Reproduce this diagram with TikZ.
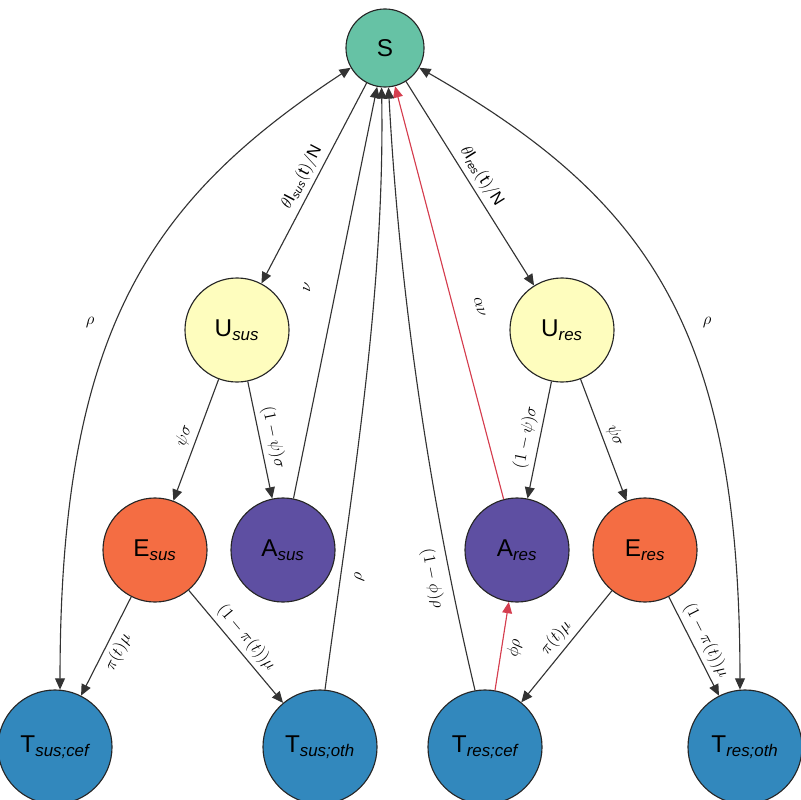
\documentclass[tikz,border=0pt]{standalone}
\usepackage{fontspec}
\setmainfont{Liberation Sans}
\usetikzlibrary{arrows.meta}
\definecolor{cS}{HTML}{66C2A5}
\definecolor{cU}{HTML}{FEFDBE}
\definecolor{cE}{HTML}{F46D43}
\definecolor{cA}{HTML}{5E4FA2}
\definecolor{cT}{HTML}{3288BD}
\definecolor{cRed}{HTML}{D53E4F}
\newcommand{\cmp}[2]{#1\textsubscript{\itshape #2}}
\begin{document}
\begin{tikzpicture}[x=0.025cm, y=-0.025cm,
    state/.style={circle, draw=black!85, thick, inner sep=0pt, font=\LARGE},
    small/.style={state, minimum size=2.6cm},
    big/.style={state, minimum size=2.85cm},
    arrow/.style={-{Triangle[length=8pt, width=7pt]}, draw=black!80, thick},
    both/.style={{Triangle[length=8pt, width=7pt]}-{Triangle[length=8pt, width=7pt]}, draw=black!80, thick},
    redarrow/.style={-{Triangle[length=8pt, width=7pt]}, draw=cRed, thick, fill=cRed},
    lbl/.style={font=\large, sloped}
]
\useasboundingbox (0,0) rectangle (800,800);

\node[state, minimum size=1.95cm, fill=cS] (S) at (385,48) {S};
\node[small, fill=cU] (Usus) at (237,330) {\cmp{U}{sus}};
\node[small, fill=cU] (Ures) at (562,330) {\cmp{U}{res}};
\node[small, fill=cE] (Esus) at (155,550) {\cmp{E}{sus}};
\node[small, fill=cA] (Asus) at (283,550) {\cmp{A}{sus}};
\node[small, fill=cA] (Ares) at (517,550) {\cmp{A}{res}};
\node[small, fill=cE] (Eres) at (645,550) {\cmp{E}{res}};
\node[big, fill=cT] (Tsc) at (55,747) {\cmp{T}{sus;cef}};
\node[big, fill=cT] (Tso) at (320,747) {\cmp{T}{sus;oth}};
\node[big, fill=cT] (Trc) at (485,747) {\cmp{T}{res;cef}};
\node[big, fill=cT] (Tro) at (745,747) {\cmp{T}{res;oth}};

\draw[arrow] (S) -- node[lbl, above] {$\theta\mathrm{I}_{\mathit{sus}}\mathrm{(t)/N}$} (Usus);
\draw[arrow] (S) -- node[lbl, above] {$\theta\mathrm{I}_{\mathit{res}}\mathrm{(t)/N}$} (Ures);
\draw[arrow] (Usus) -- node[lbl, above] {$\psi\sigma$} (Esus);
\draw[arrow] (Usus) -- node[lbl, above] {$(1-\psi)\sigma$} (Asus);
\draw[arrow] (Ures) -- node[lbl, above] {$(1-\psi)\sigma$} (Ares);
\draw[arrow] (Ures) -- node[lbl, above] {$\psi\sigma$} (Eres);
\draw[arrow] (Asus) -- node[lbl, above=14pt, pos=0.5] {$\nu$} (S);
\draw[redarrow] (Ares) -- node[lbl, above=12pt, pos=0.45, text=black] {$\alpha\nu$} (S);
\draw[arrow] (Esus) -- node[lbl, below] {$\pi(t)\mu$} (Tsc);
\draw[arrow] (Esus) -- node[lbl, above] {$(1-\pi(t))\mu$} (Tso);
\draw[arrow] (Eres) -- node[lbl, above] {$\pi(t)\mu$} (Trc);
\draw[arrow] (Eres) -- node[lbl, above] {$(1-\pi(t))\mu$} (Tro);
\draw[both] (Tsc.85) .. controls (60,330) and (150,200) .. node[pos=0.45, left=12pt, font=\large] {$\rho$} (S.210);
\draw[both] (Tro.95) .. controls (740,330) and (650,200) .. node[pos=0.45, right=12pt, font=\large] {$\rho$} (S.330);
\draw[arrow] (Tso.85) .. controls (350,500) and (385,300) .. node[lbl, pos=0.2, below=6pt] {$\rho$} (S.265);
\draw[arrow] (Trc.100) .. controls (430,500) and (400,300) .. node[lbl, pos=0.2, below=3pt] {$(1-\phi)\rho$} (S.275);
\draw[redarrow] (Trc.80) -- node[lbl, below, text=black] {$\phi\rho$} (Ares);
\end{tikzpicture}
\end{document}
